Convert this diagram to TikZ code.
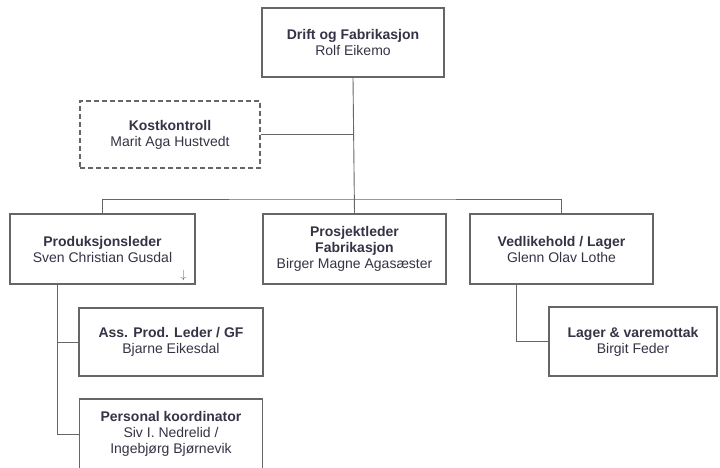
\documentclass[tikz,border=0pt]{standalone}
\usepackage{fontspec}
\setmainfont{Liberation Sans}
\usetikzlibrary{positioning,calc}
\definecolor{orgline}{gray}{0.4}
\definecolor{orgtext}{RGB}{52,52,70}
\tikzset{
  org/.style={font=\fontsize{14}{16}\selectfont,text=orgtext},
  unit/.style={draw=orgline,line width=1.1pt,fill=white,align=center,
               minimum width=183pt,minimum height=70pt,inner sep=2pt},
  staffunit/.style={unit,dashed,dash pattern=on 5pt off 3pt},
  ln/.style={draw=orgline,line width=0.9pt},
  lnthin/.style={draw=orgline,line width=0.6pt},
}
\newcommand{\head}[1]{\textbf{#1}}
\begin{document}
\begin{tikzpicture}[org,x=1pt,y=-1pt]
\useasboundingbox (0,0) rectangle (720,467);
\clip (0,0) rectangle (720,467);

% units
\node[unit,minimum width=182pt,minimum height=69pt] (drift) at (353,42.5)
  {\head{Drift og Fabrikasjon}\\Rolf Eikemo};
\node[staffunit,minimum width=180pt,minimum height=67pt] (kost) at (170,134.5)
  {\head{Kostkontroll}\\Marit Aga Hustvedt};
\node[unit,minimum width=185pt] (prod) at (102.5,249)
  {\head{Produksjonsleder}\\Sven Christian Gusdal};
\node[unit] (prosj) at (354.5,249)
  {\head{Prosjektleder}\\\head{Fabrikasjon}\\Birger Magne Agasæster};
\node[unit] (vedl) at (561.5,249)
  {\head{Vedlikehold / Lager}\\Glenn Olav Lothe};
\node[unit,minimum width=184pt,minimum height=68pt] (ass) at (171,342)
  {\head{Ass. Prod. Leder / GF}\\Bjarne Eikesdal};
\node[unit] (pers) at (171,434)
  {\head{Personal koordinator}\\Siv I. Nedrelid /\\Ingebjørg Bjørnevik};
\node[unit,minimum width=168pt,minimum height=69pt] (lager) at (633,341.5)
  {\head{Lager \& varemottak}\\Birgit Feder};
\node[font=\fontsize{12}{12}\selectfont,text=orgline,anchor=south east,inner sep=1pt] (more)
  at ($(prod.south east)+(-8,-3)$) {$\downarrow$};

% connectors
\coordinate (bus) at (353,199);
\coordinate (proddrop) at (57,0);
\coordinate (vedldrop) at (516,0);
\draw[ln] (drift.south) -- (prosj.north);
\draw[ln] (prod.north) |- (bus) -| (vedl.north);
\draw[lnthin] (kost.east) -- (kost.east -| drift.south);
\draw[ln] (prod.south -| proddrop) |- (ass.west);
\draw[ln] (prod.south -| proddrop) |- (pers.west);
\draw[ln] (vedl.south -| vedldrop) |- (lager.west);

\end{tikzpicture}
\end{document}
